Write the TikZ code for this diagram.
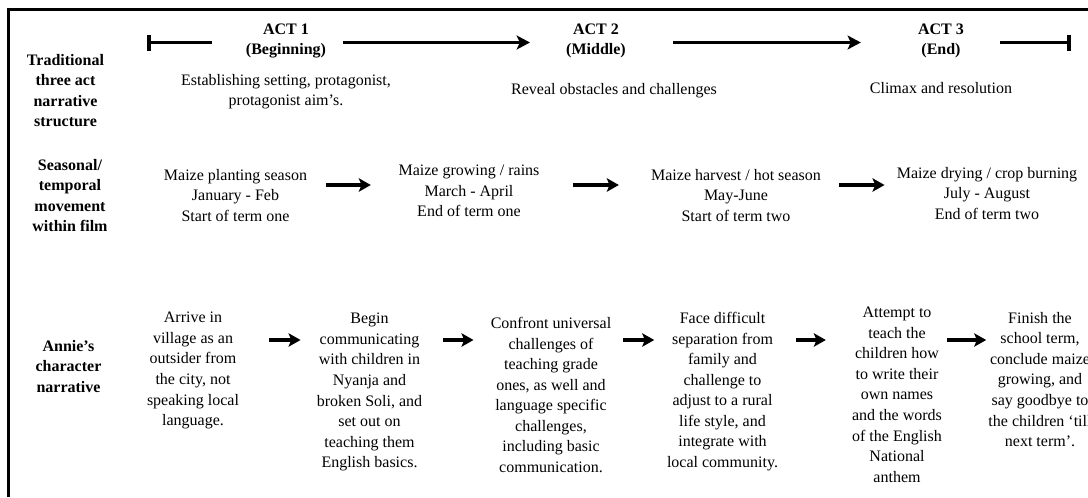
\documentclass[tikz,border=0pt]{standalone}
\usepackage{fontspec}
\setmainfont{Liberation Serif}
\usetikzlibrary{arrows.meta}

\begin{document}
\begin{tikzpicture}[
    x=0.75pt, y=-0.75pt,
    every node/.style={inner sep=0pt, anchor=north, align=center, font=\fontsize{12}{15.4}\selectfont},
    rowlabel/.style={font=\fontsize{12}{15.4}\selectfont\bfseries},
    act/.style={font=\fontsize{12}{15}\selectfont\bfseries},
    frame/.style={line width=2.25pt},
    timeline/.style={line width=2.8pt, -{Stealth[length=10pt, width=10.5pt, inset=2.5pt]}},
    endbar/.style={line width=2.8pt},
    flow/.style={line width=2.6pt, -{Stealth[length=9pt, width=10pt, inset=2pt]}}
]
\useasboundingbox (0,0) rectangle (1088,497);
\draw[frame] (8.5,497) -- (8.5,9.5) -- (1088,9.5);

\coordinate (r1) at (0,42.5);
\coordinate (r2) at (0,185);
\coordinate (r3) at (0,340);
\coordinate (begin) at (147,42.5);
\coordinate (finish) at (1071,42.5);

\node[rowlabel] (lab1) at (65.5,54) {Traditional\\three act\\narrative\\structure};
\node[rowlabel] (lab2) at (70,159) {Seasonal/\\temporal\\movement\\within film};
\node[rowlabel] (lab3) at (68.5,340) {Annie's\\character\\narrative};

\node[act] (act1) at (286,24) {ACT 1\\(Beginning)};
\node[act] (act2) at (596,24) {ACT 2\\(Middle)};
\node[act] (act3) at (941,24) {ACT 3\\(End)};
\node (d1) at (286,74) {Establishing setting, protagonist,\\protagonist aim's.};
\node (d2) at (614,83) {Reveal obstacles and challenges};
\node (d3) at (941,82) {Climax and resolution};

\node (s1) at (235.5,169) {Maize planting season\\January - Feb\\Start of term one};
\node (s2) at (469,165) {Maize growing / rains\\March - April\\End of term one};
\node (s3) at (736,169) {Maize harvest / hot season\\May-June\\Start of term two};
\node (s4) at (987,167) {Maize drying / crop burning\\July - August\\End of term two};

\node (c1) at (193,312) {Arrive in\\village as an\\outsider from\\the city, not\\speaking local\\language.};
\node (c2) at (369.5,313) {Begin\\communicating\\with children in\\Nyanja and\\broken Soli, and\\set out on\\teaching them\\English basics.};
\node (c3) at (551,317) {Confront universal\\challenges of\\teaching grade\\ones, as well and\\language specific\\challenges,\\including basic\\communication.};
\node (c4) at (722.5,312) {Face difficult\\separation from\\family and\\challenge to\\adjust to a rural\\life style, and\\integrate with\\local community.};
\node (c5) at (897,307) {Attempt to\\teach the\\children how\\to write their\\own names\\and the words\\of the English\\National\\anthem};
\node (c6) at (1040,312) {Finish the\\school term,\\conclude maize\\growing, and\\say goodbye to\\the children `till\\next term'.};

\draw[endbar, {Bar[width=12pt]}-, shorten >=25.5pt] (begin) -- (act1.west |- r1);
\draw[timeline, shorten <=12.75pt, shorten >=27pt] (act1.east |- r1) -- (act2.west |- r1);
\draw[timeline, shorten <=35.25pt, shorten >=42.75pt] (act2.east |- r1) -- (act3.west |- r1);
\draw[endbar, -{Bar[width=12pt]}, shorten <=27pt] (act3.east |- r1) -- (finish);

\draw[flow, shorten <=14.25pt, shorten >=20.6pt] (s1.east |- r2) -- (s2.west |- r2);
\draw[flow, shorten <=25.1pt, shorten >=24pt] (s2.east |- r2) -- (s3.west |- r2);
\draw[flow, shorten <=13.5pt, shorten >=9pt] (s3.east |- r2) -- (s4.west |- r2);

\draw[flow, shorten <=22.5pt, shorten >=12pt] (c1.east |- r3) -- (c2.west |- r3);
\draw[flow, shorten <=15.75pt, shorten >=12.75pt] (c2.east |- r3) -- (c3.west |- r3);
\draw[flow, shorten <=9pt, shorten >=9.4pt] (c3.east |- r3) -- (c4.west |- r3);
\draw[flow, shorten <=13.1pt, shorten >=19.5pt] (c4.east |- r3) -- (c5.west |- r3);
\draw[flow, shorten <=4pt, shorten >=1.5pt] (c5.east |- r3) -- (c6.west |- r3);
\end{tikzpicture}
\end{document}
